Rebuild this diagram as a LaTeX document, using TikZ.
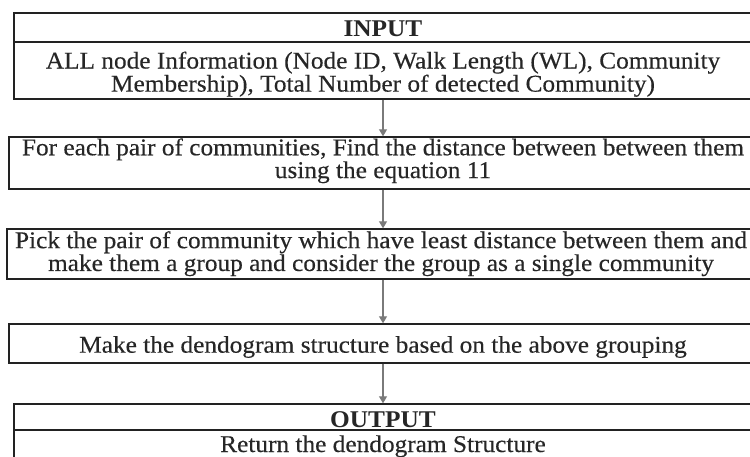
\documentclass[tikz,border=0pt]{standalone}
\usepackage{fontspec}
\usetikzlibrary{arrows.meta}
\newfontfamily\flowfont[FakeStretch=1.055,FakeBold=0.3]{Liberation Serif}
\newfontfamily\flowbold[FakeStretch=1.055]{Liberation Serif Bold}
\definecolor{linec}{HTML}{222222}
\definecolor{textc}{HTML}{262626}
\definecolor{arrowc}{HTML}{7A7A7A}
\begin{document}
\begin{tikzpicture}[x=1pt,y=1pt,
  stepbox/.style={draw=linec, line width=1.4pt, inner sep=0pt, fill=white},
  label/.style={text=textc, align=center, inner sep=0pt,
    font=\flowfont\fontsize{24}{18.5}\selectfont},
  title/.style={label, font=\flowbold\fontsize{24}{18.5}\selectfont},
  flow/.style={draw=arrowc, line width=1.2pt, -{Triangle[length=7pt,width=8pt]}}]
\useasboundingbox (0,0) rectangle (750,-457);
\clip (0,0) rectangle (750,-457);

% boxes
\node[stepbox, minimum width=738pt, minimum height=86pt] (input) at (383,-56) {};
\node[stepbox, minimum width=748pt, minimum height=52pt] (dist) at (383,-163) {};
\node[stepbox, minimum width=752pt, minimum height=50pt] (pick) at (383,-254) {};
\node[stepbox, minimum width=748pt, minimum height=39pt] (dendo) at (383,-343.5) {};
\node[stepbox, minimum width=738pt, minimum height=80pt] (output) at (383,-444) {};

% header dividers
\draw[linec, line width=1.4pt] (input.west |- 0,-42) -- (input.east |- 0,-42);
\draw[linec, line width=1.4pt] (output.west |- 0,-430) -- (output.east |- 0,-430);

% texts
\node[title, anchor=base] (inputt) at (383,-37) {INPUT};
\node[label] (inputx) at (383,-74.2) {ALL node Information (Node ID, Walk Length (WL), Community\\Membership), Total Number of detected Community)};
\node[label] (distx) at (383,-160.8) {For each pair of communities, Find the distance between between them\\using the equation 11};
\node[label] (pickx) at (381,-253.7) {Pick the pair of community which have least distance between them and\\make them a group and consider the group as a single community};
\node[label, anchor=base] (dendox) at (383,-352.7) {Make the dendogram structure based on the above grouping};
\node[title, anchor=base] (outputt) at (383,-427) {OUTPUT};
\node[label, anchor=base] (outputx) at (383,-452) {Return the dendogram Structure};

% connectors
\draw[flow] (input.south) -- (dist.north);
\draw[flow] (dist.south) -- (pick.north);
\draw[flow] (pick.south) -- (dendo.north);
\draw[flow] (dendo.south) -- (output.north);
\end{tikzpicture}
\end{document}
